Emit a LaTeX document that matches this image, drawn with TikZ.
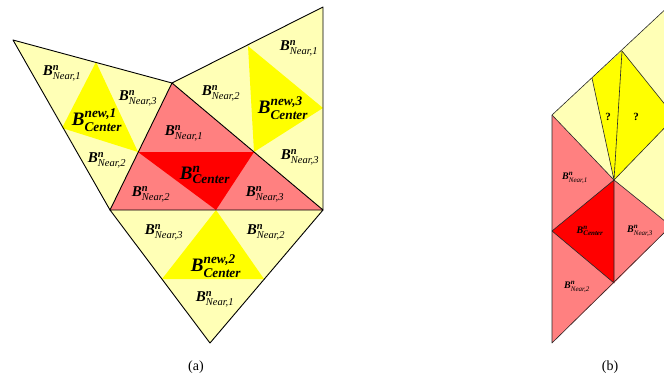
\documentclass[tikz,border=0pt]{standalone}
\usepackage{amsmath}
\usepackage{fontspec}
\setmainfont{Liberation Serif}
\usetikzlibrary{positioning}

\definecolor{paleyel}{RGB}{255,255,182}
\definecolor{brightyel}{RGB}{255,255,0}
\definecolor{pinkred}{RGB}{255,128,128}
\definecolor{fullred}{RGB}{255,0,0}

\newcommand{\bi}[1]{\text{\bfseries\itshape #1}}
\newcommand{\nearlbl}[1]{$\bi{B}^{\bi{n}}_{\text{\itshape Near,#1}}$}
\newcommand{\newlbl}[1]{$\bi{B}^{\bi{new,#1}}_{\bi{Center}}$}
\newcommand{\cenlbl}{$\bi{B}^{\bi{n}}_{\bi{Center}}$}

\begin{document}
\begin{tikzpicture}[
        x=1pt, y=-1pt,
        % Styles
        pale_part/.style={fill=paleyel},
        new_part/.style={fill=brightyel},
        near_part/.style={fill=pinkred},
        core_part/.style={fill=fullred},
        edge/.style={draw=black, line width=0.9pt, line join=round},
        thin_edge/.style={draw=black!85, line width=0.6pt, line join=round},
        near_label/.style={font=\fontsize{15}{15}\selectfont, inner sep=0pt},
        center_label/.style={font=\fontsize{19}{19}\selectfont, inner sep=0pt},
        small_label/.style={font=\fontsize{10}{10}\selectfont, inner sep=0pt},
        caption/.style={font=\fontsize{14}{14}\selectfont, inner sep=0pt}
    ]
    \useasboundingbox (0,0) rectangle (664,383);

    % Panel (a) corners
    \coordinate (l1) at (13,40);
    \coordinate (v) at (172,83);
    \coordinate (tr) at (323,7);
    \coordinate (lb) at (110,210);
    \coordinate (rb) at (323,210);
    \coordinate (bot) at (210,343);
    % inner corners
    \coordinate (p1) at (96,62);
    \coordinate (p2) at (62,128);
    \coordinate (ca) at (138,152);
    \coordinate (cb) at (254,152);
    \coordinate (cc) at (216,210);
    \coordinate (r1) at (248,46);
    \coordinate (r2) at (323,108);
    \coordinate (q1) at (162,279);
    \coordinate (q2) at (264,279);

    % Panel (a) fills
    \fill[pale_part] (l1) -- (v) -- (lb) -- cycle;
    \fill[pale_part] (v) -- (tr) -- (rb) -- cycle;
    \fill[pale_part] (lb) -- (rb) -- (bot) -- cycle;
    \fill[near_part] (v) -- (lb) -- (rb) -- cycle;
    \fill[core_part] (ca) -- (cb) -- (cc) -- cycle;
    \fill[new_part] (p1) -- (p2) -- (ca) -- cycle;
    \fill[new_part] (r1) -- (r2) -- (cb) -- cycle;
    \fill[new_part] (cc) -- (q1) -- (q2) -- cycle;

    % Panel (a) edges
    \draw[edge] (l1) -- (v) -- (lb) -- cycle;
    \draw[edge] (v) -- (tr) -- (rb) -- cycle;
    \draw[edge] (lb) -- (rb) -- (bot) -- cycle;

    % Panel (a) labels
    \node[near_label] (a_l1) at (62,73) {\nearlbl{1}};
    \node[near_label] (a_l3) at (138,98) {\nearlbl{3}};
    \node[center_label] (a_lnew) at (97,120) {\newlbl{1}};
    \node[near_label] (a_l2) at (107,160) {\nearlbl{2}};

    \node[near_label] (a_c1) at (184,133) {\nearlbl{1}};
    \node[center_label] (a_cen) at (205,175) {\cenlbl};
    \node[near_label] (a_c2) at (151,194) {\nearlbl{2}};
    \node[near_label] (a_c3) at (265,194) {\nearlbl{3}};

    \node[near_label] (a_r1) at (299,48) {\nearlbl{1}};
    \node[near_label] (a_r2) at (221,93) {\nearlbl{2}};
    \node[center_label] (a_rnew) at (283,108) {\newlbl{3}};
    \node[near_label] (a_r3) at (300,157) {\nearlbl{3}};

    \node[near_label] (a_b3) at (164,232) {\nearlbl{3}};
    \node[near_label] (a_b2) at (266,232) {\nearlbl{2}};
    \node[center_label] (a_bnew) at (216,266) {\newlbl{2}};
    \node[near_label] (a_b1) at (215,299) {\nearlbl{1}};

    \node[caption] (cap_a) at (196,367) {(a)};

    % Panel (b), cut off at the right border
    \begin{scope}
        \clip (540,0) rectangle (664,383);
        \coordinate (b1) at (552,115);
        \coordinate (bfar) at (700,-23);
        \coordinate (b2) at (592,78);
        \coordinate (bt) at (622,51);
        \coordinate (bm) at (614,180);
        \coordinate (bq) at (675,117);
        \coordinate (bl) at (552,231);
        \coordinate (bb) at (614,283);
        \coordinate (br) at (671,226);
        \coordinate (bend) at (552,343);

        \fill[pale_part] (b1) -- (bfar) -- (700,226) -- (br) -- (bm) -- cycle;
        \fill[new_part] (b2) -- (bt) -- (bm) -- cycle;
        \fill[new_part] (bt) -- (bq) -- (bm) -- cycle;
        \fill[near_part] (b1) -- (bm) -- (bl) -- cycle;
        \fill[near_part] (bm) -- (br) -- (bb) -- cycle;
        \fill[near_part] (bl) -- (bb) -- (bend) -- cycle;
        \fill[core_part] (bl) -- (bm) -- (bb) -- cycle;

        \draw[thin_edge] (bfar) -- (b1) -- (bend) -- (br);
        \draw[thin_edge] (b1) -- (bm) -- (br);
        \draw[thin_edge] (b2) -- (bm) -- (bt) -- (bq) -- (bm);
        \draw[thin_edge] (bl) -- (bm) -- (bb) -- (bl);

        \node[small_label] (b_n1) at (575,178) {\nearlbl{1}};
        \node[small_label] (b_cen) at (590,231) {\cenlbl};
        \node[small_label] (b_n3) at (640,231) {\nearlbl{3}};
        \node[small_label] (b_n2) at (577,287) {\nearlbl{2}};
        \node[font=\fontsize{11}{11}\selectfont\bfseries, inner sep=0pt] (b_q1) at (608,117) {?};
        \node[font=\fontsize{11}{11}\selectfont\bfseries, inner sep=0pt] (b_q2) at (636,117) {?};
    \end{scope}

    \node[caption] (cap_b) at (610,367) {(b)};

\end{tikzpicture}
\end{document}
